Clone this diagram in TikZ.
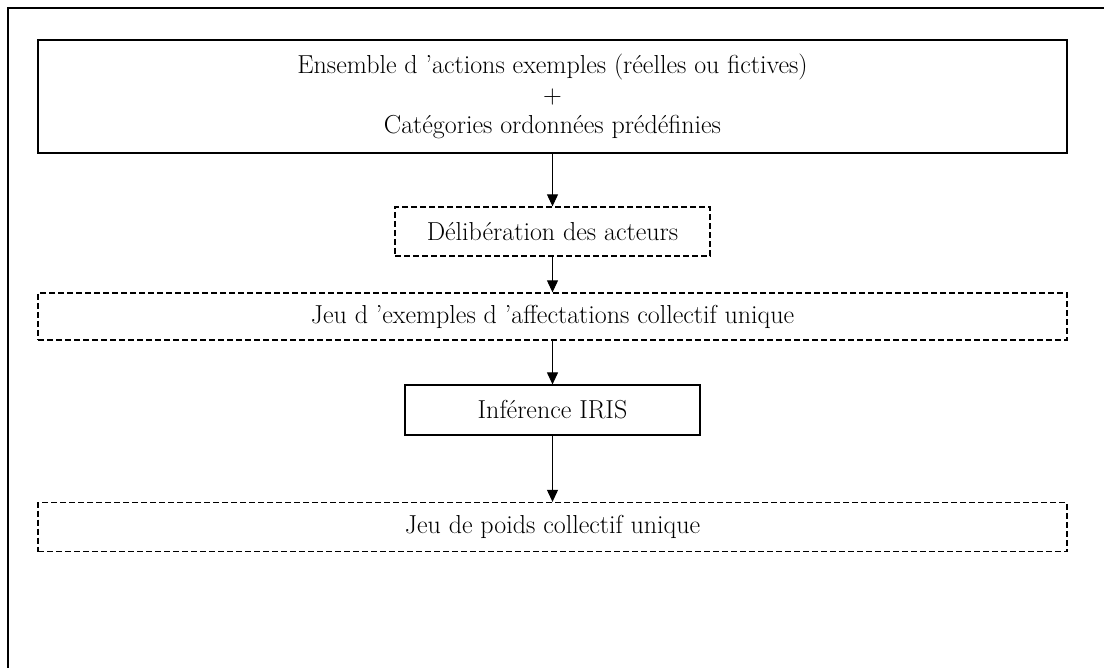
\documentclass[tikz,border=0pt]{standalone}
\usepackage{fontspec}
\usetikzlibrary{arrows.meta}

\begin{document}
\begin{tikzpicture}[x=1pt,y=-1pt,>={Triangle[width=11pt,length=12pt]},
  solidbox/.style={draw,line width=1.2pt,inner sep=0pt,align=center},
  dashbox/.style={draw,line width=1.3pt,dash pattern=on 6pt off 3pt,inner sep=0pt,align=center},
  flow/.style={->,line width=1pt}]
\useasboundingbox (0,0) rectangle (1104,668);
\fontsize{26}{30}\selectfont

% Open frame around the whole figure.
\draw[line width=1.3pt] (8,668) -- (8,8) -- (1104,8);

% Chain of boxes, top to bottom.
\node[solidbox,minimum width=1029pt,minimum height=113pt] (actions) at (552.5,96.5)
  {Ensemble d 'actions exemples (réelles ou fictives)\\+\\Catégories ordonnées prédéfinies};
\node[dashbox,minimum width=315pt,minimum height=49pt] (delib) at (552.5,231.5) {Délibération des acteurs};
\node[dashbox,minimum width=1029pt,minimum height=47pt] (affect) at (552.5,316.5) {Jeu d 'exemples d 'affectations collectif unique};
\node[solidbox,minimum width=295pt,minimum height=50pt] (iris) at (552.5,410) {Inférence IRIS};
\node[dashbox,minimum width=1029pt,minimum height=49pt] (poids) at (552.5,527) {Jeu de poids collectif unique};

\draw[flow] (actions) -- (delib);
\draw[flow] (delib) -- (affect);
\draw[flow] (affect) -- (iris);
\draw[flow] (iris) -- (poids);
\end{tikzpicture}
\end{document}
